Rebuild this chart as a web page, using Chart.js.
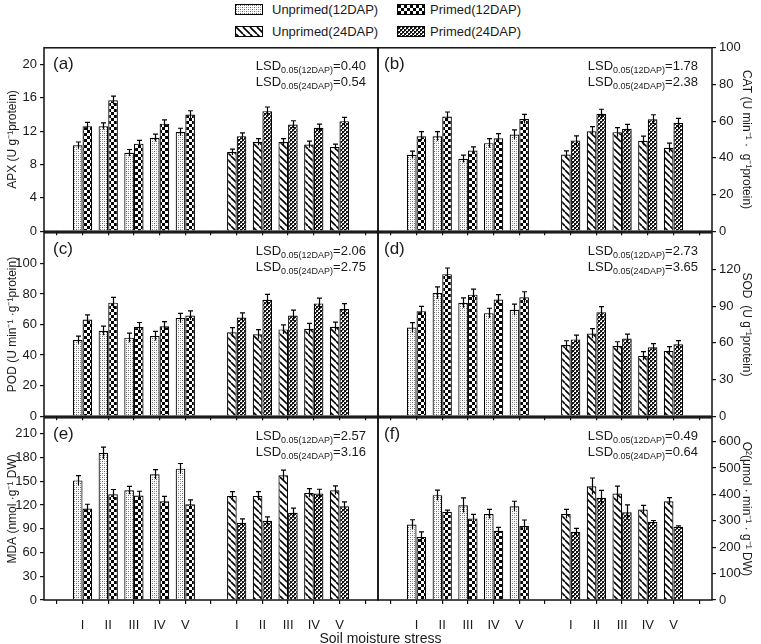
<!DOCTYPE html>
<html><head><meta charset="utf-8">
<script src="https://cdn.jsdelivr.net/npm/chart.js@4.4.0/dist/chart.umd.min.js"></script>
<style>
html,body{margin:0;padding:0;background:#fff;}
#wrap{position:relative;width:761px;height:644px;overflow:hidden;font-family:"Liberation Sans",Arial,sans-serif;color:#1a1a1a;}
canvas.panel{position:absolute;}
canvas.sw{position:absolute;border:1.5px solid #000;}
.leg{position:absolute;font-size:13px;line-height:15px;white-space:nowrap;}
#xtitle{position:absolute;left:0;width:761px;text-align:center;top:630px;font-size:14px;line-height:16px;}
</style></head><body>
<div id="wrap">
  <canvas class="sw" id="sw0" width="26" height="9" style="left:235px;top:4px"></canvas>
  <div class="leg" style="left:272px;top:2px">Unprimed(12DAP)</div>
  <canvas class="sw" id="sw1" width="26" height="9" style="left:397px;top:4px"></canvas>
  <div class="leg" style="left:430px;top:2px">Primed(12DAP)</div>
  <canvas class="sw" id="sw2" width="26" height="9" style="left:235px;top:26px"></canvas>
  <div class="leg" style="left:272px;top:24px">Unprimed(24DAP)</div>
  <canvas class="sw" id="sw3" width="26" height="9" style="left:397px;top:26px"></canvas>
  <div class="leg" style="left:430px;top:24px">Primed(24DAP)</div>

  <canvas class="panel" id="pa" width="380" height="205" style="left:0;top:37px"></canvas>
  <canvas class="panel" id="pb" width="385" height="205" style="left:376px;top:37px"></canvas>
  <canvas class="panel" id="pc" width="380" height="205" style="left:0;top:222px"></canvas>
  <canvas class="panel" id="pd" width="385" height="205" style="left:376px;top:222px"></canvas>
  <canvas class="panel" id="pe" width="380" height="233" style="left:0;top:407px"></canvas>
  <canvas class="panel" id="pf" width="385" height="233" style="left:376px;top:407px"></canvas>
  <div id="xtitle">Soil moisture stress</div>
</div>
<script>
// ---------- categories / tick labels ----------
const categories = ['', 'I', 'II', 'III', 'IV', 'V', '', 'I', 'II', 'III', 'IV', 'V', ''];
const seriesNames = ['Unprimed(12DAP)', 'Primed(12DAP)', 'Unprimed(24DAP)', 'Primed(24DAP)'];

// ---------- (a) APX ----------
const apxU12 = [10.3, 12.6, 9.4, 11.2, 11.9];
const apxP12 = [12.6, 15.7, 10.5, 12.9, 14.0];
const apxU24 = [9.5, 10.7, 10.7, 10.4, 10.1];
const apxP24 = [11.4, 14.4, 12.8, 12.4, 13.2];
const apxErrU12 = [0.4, 0.4, 0.4, 0.45, 0.45];
const apxErrP12 = [0.45, 0.5, 0.4, 0.45, 0.45];
const apxErrU24 = [0.35, 0.4, 0.4, 0.4, 0.35];
const apxErrP24 = [0.4, 0.5, 0.45, 0.45, 0.45];
const apxTicks = [0, 4, 8, 12, 16, 20];

// ---------- (b) CAT ----------
const catU12 = [41.7, 51.8, 39.5, 48.0, 52.7];
const catP12 = [51.8, 62.5, 44.0, 50.7, 61.2];
const catU24 = [41.8, 54.5, 54.0, 49.3, 45.5];
const catP24 = [49.5, 64.0, 55.8, 61.0, 59.0];
const catErrU12 = [2.0, 2.5, 2.0, 2.5, 2.5];
const catErrP12 = [2.5, 2.5, 2.0, 2.5, 2.5];
const catErrU24 = [2.0, 2.5, 2.5, 2.5, 2.5];
const catErrP24 = [2.5, 2.5, 2.5, 2.5, 2.5];
const catTicks = [0, 20, 40, 60, 80, 100];

// ---------- (c) POD ----------
const podU12 = [49.9, 55.9, 51.4, 52.5, 64.3];
const podP12 = [63.3, 74.3, 58.3, 58.9, 65.9];
const podU24 = [54.9, 53.6, 56.8, 57.2, 58.5];
const podP24 = [64.6, 76.2, 65.9, 73.8, 70.1];
const podErrU12 = [2.5, 3, 3, 3, 3];
const podErrP12 = [3, 3.5, 3, 3, 3];
const podErrU24 = [3, 3, 3, 3.5, 3];
const podErrP24 = [3, 3.5, 3.5, 3.5, 3.5];
const podTicks = [0, 20, 40, 60, 80, 100];

// ---------- (d) SOD ----------
const sodU12 = [72.5, 100.8, 92.7, 84.3, 87.1];
const sodP12 = [85.9, 116.2, 99.4, 95.4, 97.3];
const sodU24 = [58.2, 67.7, 57.4, 49.3, 53.4];
const sodP24 = [62.8, 85.1, 63.6, 56.3, 58.8];
const sodErrU12 = [4, 5, 4, 4, 4.5];
const sodErrP12 = [4, 5, 4.5, 4, 4.5];
const sodErrU24 = [3.5, 4, 3.5, 3.5, 3.5];
const sodErrP24 = [3.5, 4.5, 3.5, 3, 3];
const sodTicks = [0, 30, 60, 90, 120];

// ---------- (e) MDA ----------
const mdaU12 = [151, 185.5, 138.5, 158.7, 165.8];
const mdaP12 = [115.4, 133.5, 131.8, 124.7, 120.9];
const mdaU24 = [131.4, 131.4, 157.4, 135.2, 138.5];
const mdaP24 = [97.4, 99.9, 110, 134.3, 118.4];
const mdaErrU12 = [6, 7.5, 5, 6, 6.5];
const mdaErrP12 = [5.5, 6, 5.5, 6, 5.5];
const mdaErrU24 = [5.5, 5.5, 6.5, 5.5, 5.5];
const mdaErrP24 = [5, 5, 6, 5.5, 5.5];
const mdaTicks = [0, 30, 60, 90, 120, 150, 180, 210];

// ---------- (f) O2- ----------
const o2U12 = [286, 397, 359, 326, 355];
const o2P12 = [239, 334, 309, 262, 280];
const o2U24 = [326, 431, 403, 343, 374];
const o2P24 = [258, 387, 332, 296, 277];
const o2ErrU12 = [18, 19, 28, 17, 19];
const o2ErrP12 = [19, 6, 15, 13, 23];
const o2ErrU24 = [17, 31, 28, 15, 14];
const o2ErrP24 = [13, 28, 28, 5, 4];
const o2Ticks = [0, 100, 200, 300, 400, 500, 600];

// ---------- LSD annotations ----------
const lsd12 = ['0.40', '1.78', '2.06', '2.73', '2.57', '0.49'];
const lsd24 = ['0.54', '2.38', '2.75', '3.65', '3.16', '0.64'];

// ---------- patterns ----------
function makeTile(w, h, draw) {
  const c = document.createElement('canvas');
  c.width = w; c.height = h;
  const g = c.getContext('2d');
  g.fillStyle = '#fff'; g.fillRect(0, 0, w, h);
  draw(g, w, h);
  return c;
}
const tiles = [
  makeTile(4, 4, g => { g.fillStyle = '#666'; g.fillRect(0, 0, 1, 1); g.fillRect(2, 2, 1, 1); g.fillStyle = '#aaa'; g.fillRect(2, 0, 1, 1); g.fillRect(0, 2, 1, 1); }),
  makeTile(6, 6, g => { g.fillStyle = '#000'; g.fillRect(0, 0, 3, 3); g.fillRect(3, 3, 3, 3); }),
  makeTile(7, 7, g => { g.strokeStyle = '#000'; g.lineWidth = 1.6; g.beginPath(); [-7, 0, 7].forEach(k => { g.moveTo(k, 0); g.lineTo(k + 7, 7); }); g.stroke(); }),
  makeTile(4, 4, g => { g.fillStyle = '#111'; g.fillRect(0, 0, 2, 2); g.fillRect(2, 2, 2, 2); g.fillStyle = '#555'; g.fillRect(2, 0, 1, 1); g.fillRect(0, 2, 1, 1); })
];
const patCtx = document.createElement('canvas').getContext('2d');
const patterns = tiles.map(t => patCtx.createPattern(t, 'repeat'));

// legend swatches
['sw0', 'sw1', 'sw2', 'sw3'].forEach((id, i) => {
  const c = document.getElementById(id), g = c.getContext('2d');
  g.fillStyle = g.createPattern(tiles[i], 'repeat');
  g.fillRect(0, 0, c.width, c.height);
});

// ---------- plugins ----------
const FONT = '"Liberation Sans", Arial, sans-serif';
Chart.defaults.font.family = FONT;
Chart.defaults.color = '#1a1a1a';

const framePlugin = {
  id: 'frame',
  afterDatasetsDraw(chart) {
    const a = chart.chartArea, ctx = chart.ctx;
    // error bars
    const ys = chart.scales.y;
    ctx.save();
    ctx.strokeStyle = '#000';
    ctx.lineWidth = 1.2;
    chart.data.datasets.forEach((ds, di) => {
      const meta = chart.getDatasetMeta(di);
      meta.data.forEach((bar, i) => {
        const v = ds.data[i], e = ds.errors[i];
        if (v === null || v === undefined || e === null || e === undefined) return;
        const x = Math.round(bar.x) + 0.5;
        const yt = ys.getPixelForValue(v + e), yb = ys.getPixelForValue(v - e);
        ctx.beginPath();
        ctx.moveTo(x, yb); ctx.lineTo(x, yt);
        ctx.moveTo(x - 2.5, yt); ctx.lineTo(x + 2.5, yt);
        ctx.stroke();
      });
    });
    // frame
    ctx.strokeStyle = '#111';
    ctx.lineWidth = 1.5;
    ctx.strokeRect(a.left, a.top, a.right - a.left, a.bottom - a.top);
    // texts
    const o = chart.options.plugins.panelText;
    ctx.fillStyle = '#1a1a1a';
    ctx.textBaseline = 'middle';
    ctx.textAlign = 'left';
    ctx.font = '17px ' + FONT;
    ctx.fillText(o.label, a.left + o.labelDx, a.top + 17);
    const main = '13px ' + FONT, small = '9px ' + FONT;
    [['0.05(12DAP)', o.lsd12], ['0.05(24DAP)', o.lsd24]].forEach((r, i) => {
      const y = a.top + 18.5 + i * 16.5;
      ctx.font = main;
      const wL = ctx.measureText('LSD').width, wV = ctx.measureText('=' + r[1]).width;
      ctx.font = small;
      const wS = ctx.measureText(r[0]).width;
      let x = a.right - o.lsdDx - (wL + wS + wV);
      ctx.font = main; ctx.fillText('LSD', x, y); x += wL;
      ctx.font = small; ctx.fillText(r[0], x, y + 4); x += wS;
      ctx.font = main; ctx.fillText('=' + r[1], x, y);
    });
    ctx.restore();
  }
};

// ---------- builders ----------
function firstGroup(vals) { return [null, ...vals, null, null, null, null, null, null, null]; }
function secondGroup(vals) { return [null, null, null, null, null, null, null, ...vals, null]; }

function makeDataset(i, values, errors, second) {
  return {
    label: seriesNames[i],
    data: second ? secondGroup(values) : firstGroup(values),
    errors: second ? secondGroup(errors) : firstGroup(errors),
    backgroundColor: patterns[i],
    borderColor: '#000',
    borderWidth: 1.2,
    categoryPercentage: 0.75,
    barPercentage: 1.0,
    skipNull: true
  };
}

function makePanel(id, p) {
  const left = p.col === 0;
  new Chart(document.getElementById(id), {
    type: 'bar',
    data: {
      labels: categories,
      datasets: [
        makeDataset(0, p.u12, p.eu12, false),
        makeDataset(1, p.p12, p.ep12, false),
        makeDataset(2, p.u24, p.eu24, true),
        makeDataset(3, p.p24, p.ep24, true)
      ]
    },
    options: {
      responsive: false,
      animation: false,
      events: [],
      layout: { padding: { top: 10, bottom: 0, left: left ? 0 : 2, right: left ? 2 : 0 } },
      plugins: {
        legend: { display: false },
        tooltip: { enabled: false },
        panelText: { label: p.label, labelDx: left ? 9 : 6, lsdDx: left ? 12 : 14, lsd12: p.lsd12, lsd24: p.lsd24 }
      },
      scales: {
        x: {
          type: 'category',
          offset: true,
          grid: { offset: false, drawOnChartArea: false, drawTicks: true, tickLength: 4, color: '#111', lineWidth: 1.2 },
          border: { display: false },
          ticks: { display: p.showX, autoSkip: false, maxRotation: 0, padding: 14, font: { size: 13 }, color: '#1a1a1a' },
          afterFit(s) { s.height = p.showX ? 40 : 10; }
        },
        y: {
          position: left ? 'left' : 'right',
          min: 0,
          max: p.max,
          afterBuildTicks(s) { s.ticks = p.ticks.map(v => ({ value: v })); },
          grid: { drawOnChartArea: false, drawTicks: true, tickLength: 4, color: '#111', lineWidth: 1.2 },
          border: { display: false },
          ticks: { autoSkip: false, padding: 3, font: { size: 13 }, color: '#1a1a1a' },
          title: { display: true, text: p.title, font: { size: 12 }, color: '#1a1a1a', padding: { top: left ? 5 : 7, bottom: 0 } },
          afterFit(s) { s.width = left ? 44 : 49; }
        }
      }
    },
    plugins: [framePlugin]
  });
}

makePanel('pa', { col: 0, label: '(a)', showX: false, max: 22, ticks: apxTicks, title: 'APX (U g\u207B\u00B9protein)',
  u12: apxU12, p12: apxP12, u24: apxU24, p24: apxP24, eu12: apxErrU12, ep12: apxErrP12, eu24: apxErrU24, ep24: apxErrP24, lsd12: lsd12[0], lsd24: lsd24[0] });
makePanel('pb', { col: 1, label: '(b)', showX: false, max: 100, ticks: catTicks, title: 'CAT (U min\u207B\u00B9 \u00B7  g\u207B\u00B9protein)',
  u12: catU12, p12: catP12, u24: catU24, p24: catP24, eu12: catErrU12, ep12: catErrP12, eu24: catErrU24, ep24: catErrP24, lsd12: lsd12[1], lsd24: lsd24[1] });
makePanel('pc', { col: 0, label: '(c)', showX: false, max: 120, ticks: podTicks, title: 'POD (U min\u207B\u00B9 \u00B7g\u207B\u00B9protein)',
  u12: podU12, p12: podP12, u24: podU24, p24: podP24, eu12: podErrU12, ep12: podErrP12, eu24: podErrU24, ep24: podErrP24, lsd12: lsd12[2], lsd24: lsd24[2] });
makePanel('pd', { col: 1, label: '(d)', showX: false, max: 150, ticks: sodTicks, title: 'SOD  (U g\u207B\u00B9protein)',
  u12: sodU12, p12: sodP12, u24: sodU24, p24: sodP24, eu12: sodErrU12, ep12: sodErrP12, eu24: sodErrU24, ep24: sodErrP24, lsd12: lsd12[3], lsd24: lsd24[3] });
makePanel('pe', { col: 0, label: '(e)', showX: true, max: 230, ticks: mdaTicks, title: 'MDA (nmol \u00B7g\u207B\u00B9 DW)',
  u12: mdaU12, p12: mdaP12, u24: mdaU24, p24: mdaP24, eu12: mdaErrU12, ep12: mdaErrP12, eu24: mdaErrU24, ep24: mdaErrP24, lsd12: lsd12[4], lsd24: lsd24[4] });
makePanel('pf', { col: 1, label: '(f)', showX: true, max: 690, ticks: o2Ticks, title: 'O\u00B2(\u03BCmol \u00B7 min\u207B\u00B9 \u00B7 g\u207B\u00B9 DW)',
  u12: o2U12, p12: o2P12, u24: o2U24, p24: o2P24, eu12: o2ErrU12, ep12: o2ErrP12, eu24: o2ErrU24, ep24: o2ErrP24, lsd12: lsd12[5], lsd24: lsd24[5] });
</script>
</body></html>
